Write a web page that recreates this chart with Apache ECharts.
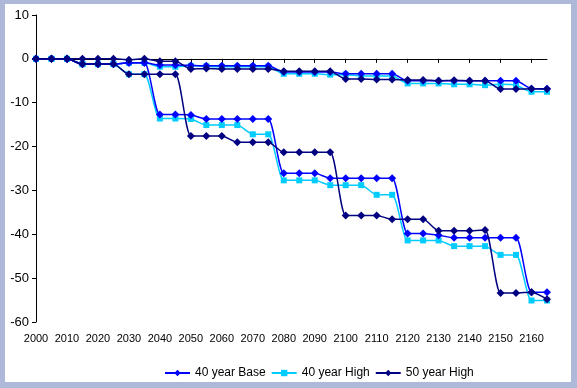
<!DOCTYPE html>
<html>
<head>
<meta charset="utf-8">
<script src="https://cdn.jsdelivr.net/npm/echarts@6/dist/echarts.min.js"></script>
<style>
  html, body { margin: 0; padding: 0; }
  #wrap { position: relative; width: 577px; height: 388px; background: #AEB8D8; overflow: hidden; }
  #paper { position: absolute; left: 5px; top: 4px; width: 566px; height: 378px; background: #ffffff; }
  #chart { position: absolute; left: 0; top: 0; width: 577px; height: 388px; }
</style>
</head>
<body>
<div id="wrap"><div id="paper"></div><div id="chart"></div></div>
<script>
// Categories: every 5 years
const years = [2000,2005,2010,2015,2020,2025,2030,2035,2040,2045,2050,2055,2060,2065,2070,2075,2080,2085,2090,2095,2100,2105,2110,2115,2120,2125,2130,2135,2140,2145,2150,2155,2160,2165];
const yTicks = [-60,-50,-40,-30,-20,-10,0,10];

// Upper group of curves
const base40Upper = [0,0,0,-1.2,-1.2,-1.2,-0.9,-0.9,-1.4,-1.4,-1.5,-1.6,-1.6,-1.6,-1.6,-1.6,-3.0,-3.0,-3.0,-3.0,-3.4,-3.4,-3.4,-3.4,-5.0,-5.0,-5.0,-5.0,-5.0,-5.0,-5.0,-5.0,-6.8,-6.8];
const high40Upper = [0,0,0,-1.2,-1.2,-1.2,-0.9,-0.9,-1.8,-1.8,-1.6,-1.7,-1.8,-1.8,-1.8,-1.8,-3.4,-3.4,-3.4,-3.6,-3.6,-3.9,-3.9,-3.9,-5.6,-5.6,-5.6,-5.8,-5.8,-6.0,-5.8,-6.0,-7.5,-7.5];
const high50Upper = [0,0,0,0,0,0,-0.2,0,-0.55,-0.55,-2.3,-2.2,-2.3,-2.3,-2.3,-2.3,-2.8,-2.8,-2.8,-2.8,-4.6,-4.6,-4.7,-4.7,-4.8,-4.8,-5.0,-4.9,-5.0,-5.0,-6.9,-6.9,-6.8,-6.9];

// Lower group of curves
const base40Lower = [0,0,0,-1.2,-1.2,-1.2,-0.9,-0.9,-12.7,-12.7,-12.8,-13.7,-13.7,-13.7,-13.7,-13.7,-26.1,-26.1,-26.1,-27.2,-27.2,-27.2,-27.2,-27.2,-39.8,-39.8,-40.2,-40.8,-40.8,-40.8,-40.8,-40.8,-53.2,-53.2];
const high40Lower = [0,0,0,-1.2,-1.2,-1.2,-3.5,-3.5,-13.6,-13.6,-13.7,-15.1,-15.1,-15.1,-17.2,-17.2,-27.7,-27.7,-27.7,-28.8,-28.8,-28.8,-31.0,-31.0,-41.4,-41.4,-41.4,-42.7,-42.7,-42.7,-44.7,-44.7,-55.1,-55.1];
const high50Lower = [0,0,0,-1.2,-1.2,-1.2,-3.5,-3.5,-3.5,-3.5,-17.6,-17.6,-17.6,-19.0,-19.0,-19.0,-21.3,-21.3,-21.3,-21.3,-35.7,-35.7,-35.7,-36.6,-36.6,-36.6,-39.2,-39.2,-39.2,-39.0,-53.4,-53.4,-53.2,-54.8];

const names = ['40 year Base', '40 year High', '50 year High'];
const colors = ['#0000FF', '#00CCFF', '#000080'];
const symbols = ['diamond', 'rect', 'diamond'];
const sizes = [8, 6, 8];

const FONT = '"Liberation Sans", Arial, sans-serif';

function mk(idx, data, z) {
  return {
    name: names[idx],
    type: 'line',
    data: data,
    xAxisIndex: 0,
    smooth: 0.22,
    symbol: symbols[idx],
    symbolSize: sizes[idx],
    showSymbol: true,
    z: z,
    lineStyle: { color: colors[idx], width: 1.5 },
    itemStyle: { color: colors[idx], borderWidth: 0 },
    emphasis: { disabled: true },
    animation: false
  };
}

const chart = echarts.init(document.getElementById('chart'), null, { renderer: 'canvas' });
chart.setOption({
  backgroundColor: 'transparent',
  animation: false,
  textStyle: { fontFamily: FONT },
  grid: { left: 36, right: 30, top: 15, bottom: 66, containLabel: false },
  legend: {
    data: names,
    left: 159,
    top: 362,
    itemWidth: 25,
    itemHeight: 8,
    itemGap: 5,
    textStyle: { fontFamily: FONT, fontSize: 12, color: '#000' }
  },
  xAxis: [
    {
      type: 'category',
      data: years,
      boundaryGap: false,
      axisLine: { onZero: true, lineStyle: { color: '#000', width: 1 } },
      axisTick: { show: true, interval: 1, length: 4, lineStyle: { color: '#000' } },
      axisLabel: { show: false },
      splitLine: { show: false }
    },
    {
      type: 'category',
      data: years,
      boundaryGap: false,
      position: 'bottom',
      axisLine: { show: false, onZero: false },
      axisTick: { show: false },
      axisLabel: { show: true, interval: 1, margin: 11, fontSize: 11, color: '#000', fontFamily: FONT },
      splitLine: { show: false }
    }
  ],
  yAxis: {
    type: 'value',
    min: yTicks[0],
    max: yTicks[yTicks.length - 1],
    interval: 10,
    axisLine: { show: true, lineStyle: { color: '#000', width: 1 } },
    axisTick: { show: true, length: 4, lineStyle: { color: '#000' } },
    axisLabel: { fontSize: 13, color: '#000', margin: 7, fontFamily: FONT },
    splitLine: { show: false }
  },
  series: [
    mk(0, base40Upper, 4),
    mk(1, high40Upper, 3),
    mk(2, high50Upper, 5),
    mk(0, base40Lower, 4),
    mk(1, high40Lower, 3),
    mk(2, high50Lower, 5)
  ]
});
</script>
</body>
</html>
